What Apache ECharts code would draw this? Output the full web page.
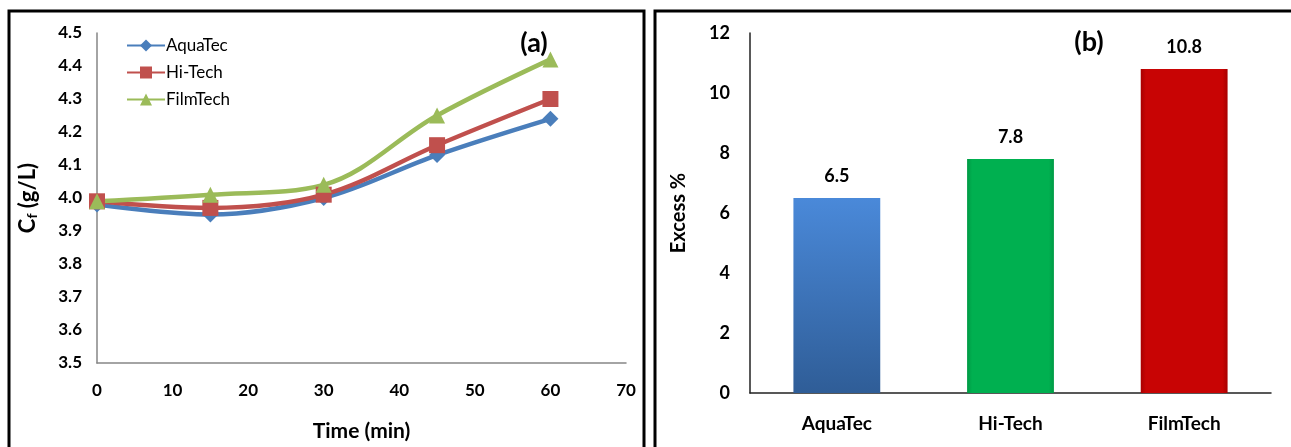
<!DOCTYPE html>
<html>
<head>
<meta charset="utf-8">
<script src="https://cdn.jsdelivr.net/npm/echarts@6/dist/echarts.min.js"></script>
<style>
  html, body { margin: 0; padding: 0; background: #fff; }
  #chart { width: 1291px; height: 447px; }
</style>
</head>
<body>
<div id="chart"></div>
<script>
// panel (a): feed concentration vs time
const timeMin = [0, 15, 30, 45, 60];
const aquaTec = [3.98, 3.95, 4.00, 4.13, 4.24];
const hiTech = [3.99, 3.97, 4.01, 4.16, 4.30];
const filmTech = [3.99, 4.01, 4.04, 4.25, 4.42];

// panel (b): excess %
const membranes = ['AquaTec', 'Hi-Tech', 'FilmTech'];
const excess = [6.5, 7.8, 10.8];

const FONT = 'Lato, "Open Sans", sans-serif';

const pairs = (ys) => timeMin.map((t, i) => [t, ys[i]]);

const edgeGrad = (dark, main) => ({
  type: 'linear', x: 0, y: 0, x2: 1, y2: 0,
  colorStops: [
    { offset: 0, color: dark },
    { offset: 0.06, color: main },
    { offset: 0.94, color: main },
    { offset: 1, color: dark }
  ]
});

const barColors = [
  { type: 'linear', x: 0, y: 0, x2: 0, y2: 1,
    colorStops: [{ offset: 0, color: '#4a89d9' }, { offset: 1, color: '#2f5d97' }] },
  edgeGrad('#009a45', '#00b050'),
  edgeGrad('#a80000', '#c80404')
];

const chart = echarts.init(document.getElementById('chart'));

const option = {
  backgroundColor: '#fff',
  animation: false,
  textStyle: { fontFamily: FONT },
  graphic: [
    { type: 'rect', shape: { x: 9, y: 11, width: 635, height: 450 },
      style: { fill: 'none', stroke: '#000', lineWidth: 3 } },
    { type: 'rect', shape: { x: 655, y: 11, width: 640, height: 450 },
      style: { fill: 'none', stroke: '#000', lineWidth: 3 } },
    { type: 'text', x: 534, y: 43,
      style: { text: '(a)', font: 'bold 27px ' + FONT, fill: '#000', align: 'center', verticalAlign: 'middle' } },
    { type: 'text', x: 1089, y: 42,
      style: { text: '(b)', font: 'bold 27px ' + FONT, fill: '#000', align: 'center', verticalAlign: 'middle' } }
  ],
  legend: {
    orient: 'vertical',
    left: 121,
    top: 32,
    itemWidth: 38,
    itemHeight: 15,
    itemGap: 10,
    textStyle: { fontSize: 17, color: '#000', fontFamily: FONT, padding: [0, 0, 0, -4] },
    data: ['AquaTec', 'Hi-Tech', 'FilmTech']
  },
  grid: [
    { left: 97, right: 665, top: 33, bottom: 78 },
    { left: 750, right: 20, top: 33, bottom: 54 }
  ],
  xAxis: [
    {
      gridIndex: 0, type: 'value', min: 0, max: 70, interval: 10,
      name: 'Time (min)', nameLocation: 'middle', nameGap: 58,
      nameTextStyle: { fontSize: 21, fontWeight: 'bold', color: '#000' },
      axisLine: { show: true, lineStyle: { color: '#868686', width: 1.5 } },
      axisTick: { show: false },
      splitLine: { show: false },
      axisLabel: { fontSize: 17, fontWeight: 'bold', color: '#000', margin: 19 }
    },
    {
      gridIndex: 1, type: 'category', data: membranes,
      axisLine: { lineStyle: { color: '#222', width: 1.5 } },
      axisTick: { show: false },
      axisLabel: { fontSize: 19, fontWeight: 'bold', color: '#000', margin: 21 }
    }
  ],
  yAxis: [
    {
      gridIndex: 0, type: 'value', min: 3.5, max: 4.5, interval: 0.1,
      name: '{b|C}{s|f}{b| (g/L)}', nameLocation: 'middle', nameGap: 58, nameRotate: 90,
      nameTextStyle: {
        rich: {
          b: { fontSize: 22, fontWeight: 'bold', color: '#000', fontFamily: FONT },
          s: { fontSize: 14, fontWeight: 'bold', color: '#000', fontFamily: FONT, verticalAlign: 'bottom', padding: [9, 0, 0, 0] }
        }
      },
      axisLine: { show: true, lineStyle: { color: '#868686', width: 1.5 } },
      axisTick: { show: false },
      splitLine: { show: false },
      axisLabel: { fontSize: 17, fontWeight: 'bold', color: '#000', margin: 15,
        formatter: (v) => v.toFixed(1) }
    },
    {
      gridIndex: 1, type: 'value', min: 0, max: 12, interval: 2,
      name: 'Excess %', nameLocation: 'middle', nameGap: 61, nameRotate: 90,
      nameTextStyle: { fontSize: 20, fontWeight: 'bold', color: '#000' },
      axisLine: { show: true, lineStyle: { color: '#222', width: 1.5 } },
      axisTick: { show: false },
      splitLine: { show: false },
      axisLabel: { fontSize: 18, fontWeight: 'bold', color: '#000', margin: 20 }
    }
  ],
  series: [
    {
      name: 'AquaTec', type: 'line', xAxisIndex: 0, yAxisIndex: 0,
      data: pairs(aquaTec), smooth: 0.35,
      symbol: 'diamond', symbolSize: 16,
      lineStyle: { color: '#4a7ebb', width: 4.5 },
      itemStyle: { color: '#4a7ebb' }
    },
    {
      name: 'Hi-Tech', type: 'line', xAxisIndex: 0, yAxisIndex: 0,
      data: pairs(hiTech), smooth: 0.35,
      symbol: 'rect', symbolSize: 16,
      lineStyle: { color: '#c0504d', width: 4.5 },
      itemStyle: { color: '#c0504d' }
    },
    {
      name: 'FilmTech', type: 'line', xAxisIndex: 0, yAxisIndex: 0,
      data: pairs(filmTech), smooth: 0.35,
      symbol: 'triangle', symbolSize: 16,
      lineStyle: { color: '#9bbb59', width: 4.5 },
      itemStyle: { color: '#9bbb59' }
    },
    {
      name: 'Excess', type: 'bar', xAxisIndex: 1, yAxisIndex: 1,
      barWidth: '50%',
      data: excess.map((v, i) => ({ value: v, itemStyle: { color: barColors[i] } })),
      label: { show: true, position: 'top', distance: 13, fontSize: 18, fontWeight: 'bold', color: '#000' }
    }
  ]
};

chart.setOption(option);
</script>
</body>
</html>
